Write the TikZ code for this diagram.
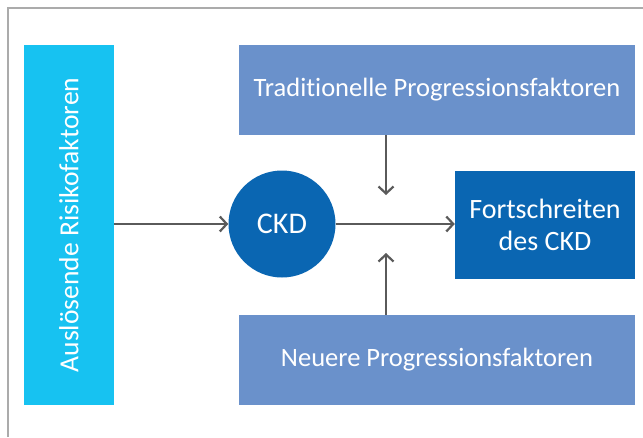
\documentclass[tikz,border=0pt]{standalone}
\usepackage{fontspec}
\setmainfont[RawFeature={-liga}]{Carlito}
\usepackage{xcolor}
\usetikzlibrary{arrows.meta}

\definecolor{riskcyan}{HTML}{17C2F1}
\definecolor{factorblue}{HTML}{6A91CB}
\definecolor{ckdblue}{HTML}{0A66B2}
\definecolor{arrowgrey}{HTML}{5A5A5A}
\definecolor{framegrey}{HTML}{ABABAB}

\tikzset{
	box/.style={fill=#1, text=white, inner sep=0pt, align=center,
		font=\fontsize{26.5}{32}\selectfont},
	arr/.style={draw=arrowgrey, line width=2.2pt,
		-{Straight Barb[length=7pt,width=15pt,line width=2.2pt]}},
}

\begin{document}
\begin{tikzpicture}[x=1pt,y=-1pt]
	\useasboundingbox (0,0) rectangle (643,437);
	\draw [framegrey, line width=1.5pt] (8,437) -- (8,8) -- (643,8);
	%
	\node[box=riskcyan, minimum width=90pt, minimum height=360pt] (R) at (69,225) {};
	\node[text=white, rotate=90, font=\fontsize{27.6}{32}\selectfont] (Rt) at (R.center) {Auslösende Risikofaktoren};
	\node[box=factorblue, minimum width=396pt, minimum height=90pt] (T) at (437,90) {Traditionelle Progressionsfaktoren};
	\node[box=factorblue, minimum width=396pt, minimum height=90pt] (N) at (437,360) {Neuere Progressionsfaktoren};
	\node[box=ckdblue, minimum width=180pt, minimum height=108pt, font=\fontsize{28}{32}\selectfont] (F) at (545,224.5) {Fortschreiten\\des CKD};
	\node[box=ckdblue, circle, minimum size=107pt, font=\fontsize{30}{32}\selectfont] (C) at (282,224) {CKD};
	\coordinate (TA) at (386,195);
	\coordinate (NA) at (386,253);
	%
	\draw [arr] (R.east |- C) -- (C.west);
	\draw [arr] (C.east) -- (F.west |- C);
	\draw [arr] (T.south -| TA) -- (TA);
	\draw [arr] (N.north -| NA) -- (NA);
\end{tikzpicture}
\end{document}
